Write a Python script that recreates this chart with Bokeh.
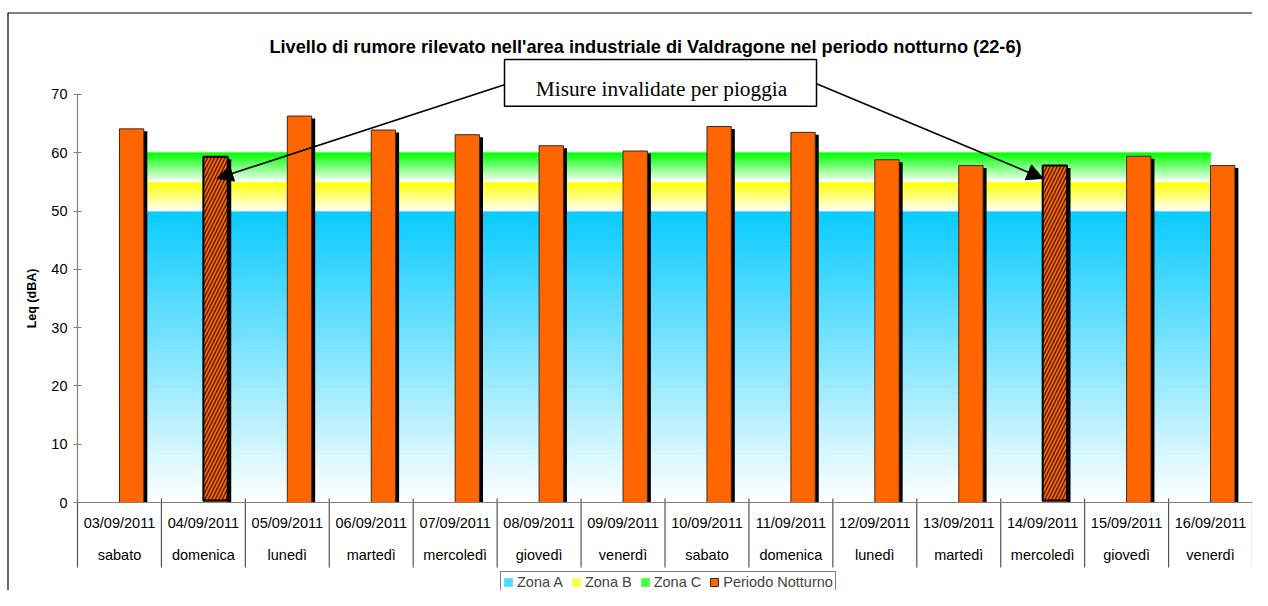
import numpy as np
from bokeh.plotting import figure
from bokeh.models import (Range1d, FixedTicker, Legend, LegendItem, Arrow,
                          NormalHead, ColumnDataSource)
from bokeh.embed import file_html
from bokeh.resources import INLINE
from bokeh.core.properties import value

# ---------------- data ----------------
dates = ["03/09/2011", "04/09/2011", "05/09/2011", "06/09/2011", "07/09/2011",
         "08/09/2011", "09/09/2011", "10/09/2011", "11/09/2011", "12/09/2011",
         "13/09/2011", "14/09/2011", "15/09/2011", "16/09/2011"]
days = ["sabato", "domenica", "lunedì", "martedì", "mercoledì", "giovedì",
        "venerdì", "sabato", "domenica", "lunedì", "martedì", "mercoledì",
        "giovedì", "venerdì"]
leq = [64.1, 59.3, 66.3, 63.9, 63.1, 61.2, 60.3, 64.5, 63.5, 58.8, 57.8,
       57.8, 59.4, 57.8]
invalid = [False, True, False, False, False, False, False, False, False,
           False, False, True, False, False]
zone_names = ["Zona A", "Zona B", "Zona C"]
zone_low = [0, 50, 55]
zone_high = [50, 55, 60]
zone_colors = ["#08CBFF", "#FFFF00", "#00FF00"]
y_ticks = [0, 10, 20, 30, 40, 50, 60, 70]
series_name = "Periodo Notturno"
y_label = "Leq (dBA)"
title_text = ("Livello di rumore rilevato nell'area industriale di Valdragone "
              "nel periodo notturno (22-6)")
note_text = "Misure invalidate per pioggia"

# ---------------- styling / layout ----------------
FONT = "Liberation Sans"
ORANGE = "#FF6600"
AXIS_GREY = "#808080"
W, H = 1252, 590
X0, Y0 = 77, 502               # canvas position of (0, 0)
n = len(dates)
PX_X = (W - X0) / n            # pixels per category
PX_Y = 5.829                   # pixels per dB
centers = [i + 0.5 for i in range(n)]
boundaries = list(range(n + 1))
BAR_W = 0.29
SH_DX = 3.5 / PX_X
SH_DY = 2.5 / PX_Y


def dx(px):   # canvas x pixel -> data x
    return (px - X0) / PX_X


def dy(py):   # canvas y pixel -> data y
    return (Y0 - py) / PX_Y


p = figure(width=W, height=H, output_backend="svg", toolbar_location=None,
           title=None,
           x_range=Range1d(dx(0), dx(W)), y_range=Range1d(dy(H), dy(0)),
           min_border_left=0, min_border_right=0, min_border_top=0,
           min_border_bottom=0)
p.outline_line_color = None
p.xgrid.visible = False
p.ygrid.visible = False
p.background_fill_color = "white"
p.border_fill_color = "white"

# outer chart border (left and top edges visible, rest runs off the page)
p.quad(left=dx(7.5), right=dx(W + 20), top=dy(12.5), bottom=dy(H + 20),
       fill_color=None, line_color="black", line_width=1.2)


# gradient bands (drawn from the zone limits)
def hex_mix(top_hex, t):
    top = np.array([int(top_hex[i:i + 2], 16) for i in (1, 3, 5)], float)
    rgb = 255 * (1 - t) + top * t
    return "#%02x%02x%02x" % tuple(int(round(v)) for v in rgb)


band_renderers = []
band_legend_idx = []
for k in range(len(zone_names)):
    N = 80 if zone_high[k] - zone_low[k] > 10 else 16
    edges = np.linspace(zone_low[k], zone_high[k], N + 1)
    ts = (np.arange(N) + 0.5) / N
    cols = [hex_mix(zone_colors[k], t) for t in ts]
    src = ColumnDataSource(dict(bottom=edges[:-1], top=edges[1:], color=cols))
    r = p.quad(left=centers[0], right=centers[-1], bottom="bottom", top="top",
               fill_color="color", line_color="color", line_width=0.7,
               source=src)
    band_renderers.append(r)
    band_legend_idx.append(int(N * 0.7))

# bars with shadow
bsrc = ColumnDataSource(dict(
    left=[c for c in centers],
    right=[c + BAR_W for c in centers],
    top=leq,
    sleft=[c + SH_DX for c in centers],
    sright=[c + BAR_W + SH_DX for c in centers],
    stop=[v - SH_DY for v in leq],
))
p.quad(left="sleft", right="sright", bottom=0, top="stop", source=bsrc,
       fill_color="black", line_color=None)
bars = p.quad(left="left", right="right", bottom=0, top="top", source=bsrc,
              fill_color=ORANGE, line_color="#3a2a20", line_width=1)

# invalidated measurements: hatched overlay
inv_idx = [i for i, f in enumerate(invalid) if f]
hsrc = ColumnDataSource(dict(
    left=[centers[i] for i in inv_idx],
    right=[centers[i] + BAR_W for i in inv_idx],
    top=[leq[i] for i in inv_idx],
))
p.quad(left="left", right="right", bottom=2.0 / PX_Y, top="top", source=hsrc,
       fill_color=ORANGE, line_color="black", line_width=2,
       hatch_pattern="/", hatch_color="#2a1000", hatch_alpha=0.85,
       hatch_scale=7, hatch_weight=1.4)

# category separators below the axis
p.segment(x0=boundaries, x1=boundaries, y0=4 / PX_Y, y1=-65 / PX_Y,
          line_color="#555555", line_width=1.2)

# callout box and arrows
BOX = dict(left=dx(504), right=dx(816), bottom=dy(105.7), top=dy(59))
p.quad(left=BOX["left"], right=BOX["right"], bottom=BOX["bottom"],
       top=BOX["top"], fill_color="white", line_color="black", line_width=1.5)
p.text(x=[dx(661)], y=[dy(88.3)], text=[note_text],
       text_font=value("Liberation Serif"), text_font_size="21.3px",
       text_align="center", text_baseline="alphabetic", text_color="black")

tip_offsets = [(0.16, -3.7), (0.006, -2.2)]
starts = [(BOX["left"], dy(84.3)), (BOX["right"], dy(83.3))]
for (i, (ox, oy), (xs, ys)) in zip(inv_idx, tip_offsets, starts):
    p.add_layout(Arrow(end=NormalHead(size=16, fill_color="black",
                                      line_color="black"),
                       x_start=xs, y_start=ys,
                       x_end=centers[i] + ox, y_end=leq[i] + oy,
                       line_color="black", line_width=1.6))

# title
p.text(x=[dx(645)], y=[dy(46.7)], text=[title_text],
       text_font=value(FONT), text_font_size="18.2px",
       text_font_style="bold", text_align="center",
       text_baseline="alphabetic", text_color="black")

# x axis: labels at category centres
xa = p.xaxis[0]
xa.fixed_location = 0
xa.bounds = (0, n)
xa.ticker = FixedTicker(ticks=centers, minor_ticks=[])
xa.major_label_overrides = {c: f"{d}\n{w}" for c, d, w in
                            zip(centers, dates, days)}
xa.major_tick_out = 0
xa.major_tick_in = 0
xa.minor_tick_line_color = None
xa.axis_line_color = AXIS_GREY
xa.axis_line_width = 1.2
xa.major_label_text_font = FONT
xa.major_label_text_font_size = "14.5px"
xa.major_label_text_color = "black"
xa.major_label_text_line_height = 2.0
xa.major_label_standoff = 12

# y axis
ya = p.yaxis[0]
ya.fixed_location = 0
ya.ticker = FixedTicker(ticks=y_ticks, minor_ticks=[])
ya.bounds = (0, 70)
ya.major_tick_in = 4
ya.major_tick_out = 4
ya.minor_tick_line_color = None
ya.axis_line_color = AXIS_GREY
ya.axis_line_width = 1.2
ya.major_tick_line_color = AXIS_GREY
ya.major_label_text_font = FONT
ya.major_label_text_font_size = "14.5px"
ya.major_label_text_color = "black"
ya.major_label_standoff = 6
ya.axis_label = y_label
ya.axis_label_text_font = FONT
ya.axis_label_text_font_size = "12.5px"
ya.axis_label_text_font_style = "bold"
ya.axis_label_text_color = "black"
ya.axis_label_standoff = 9

# legend
items = [LegendItem(label=zone_names[k], renderers=[band_renderers[k]],
                    index=band_legend_idx[k]) for k in range(len(zone_names))]
items.append(LegendItem(label=series_name, renderers=[bars]))
legend = Legend(items=items, orientation="horizontal", location=(500, -3),
                border_line_color="black", border_line_width=1,
                background_fill_color="white", background_fill_alpha=1,
                padding=2, spacing=8, margin=0, glyph_width=10,
                glyph_height=10, label_standoff=4, label_text_font=FONT,
                label_text_font_size="14.5px", label_height=13)
p.add_layout(legend)

open("out.html", "w").write(file_html(p, INLINE))
